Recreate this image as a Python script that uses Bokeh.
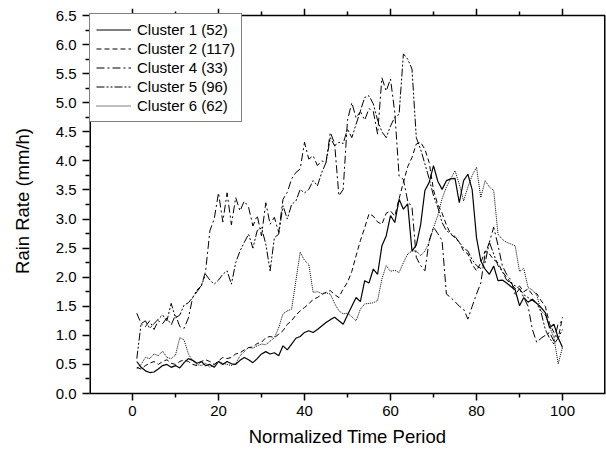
from bokeh.plotting import figure
from bokeh.models import (FixedTicker, Range1d, Legend, LegendItem, PrintfTickFormatter)
from bokeh.embed import file_html
from bokeh.resources import INLINE

time_period = list(range(1, 101))

cluster1 = [0.55, 0.45, 0.39, 0.36, 0.37, 0.42, 0.48, 0.50, 0.45, 0.48,
            0.44, 0.53, 0.60, 0.57, 0.52, 0.55, 0.48, 0.50, 0.45, 0.55,
            0.50, 0.55, 0.51, 0.50, 0.57, 0.62, 0.58, 0.53, 0.60, 0.68,
            0.72, 0.68, 0.70, 0.65, 0.82, 0.75, 0.85, 0.95, 0.98, 1.05,
            1.08, 1.05, 1.10, 1.16, 1.22, 1.27, 1.31, 1.25, 1.19, 1.35,
            1.50, 1.65, 1.58, 1.94, 1.90, 2.14, 2.05, 2.54, 2.71, 3.06,
            2.94, 3.34, 3.17, 3.26, 2.45, 2.55, 2.90, 3.49, 3.63, 3.92,
            3.65, 3.51, 3.66, 3.69, 3.70, 3.28, 3.66, 3.77, 3.50, 2.68,
            2.28, 2.14, 2.05, 2.19, 1.94, 1.95, 1.90, 1.84, 1.78, 1.51,
            1.65, 1.57, 1.62, 1.55, 1.48, 1.39, 1.13, 1.19, 0.96, 0.79]

cluster2 = [0.45, 0.42, 0.48, 0.52, 0.55, 0.50, 0.55, 0.58, 0.52, 0.50,
            0.55, 0.58, 0.55, 0.50, 0.48, 0.55, 0.58, 0.55, 0.50, 0.56,
            0.62, 0.60, 0.62, 0.68, 0.70, 0.75, 0.79, 0.80, 0.86, 0.88,
            0.96, 0.98, 0.96, 1.02, 1.08, 1.19, 1.25, 1.35, 1.42, 1.48,
            1.54, 1.62, 1.65, 1.70, 1.74, 1.77, 1.70, 1.65, 1.80, 1.91,
            2.10, 2.37, 2.63, 2.85, 3.09, 3.05, 2.95, 2.91, 3.10, 3.14,
            3.05, 3.35, 3.63, 3.90, 4.06, 4.29, 4.32, 4.20, 3.97, 3.50,
            3.25, 3.10, 2.90, 2.74, 2.68, 2.60, 2.45, 2.40, 2.22, 2.11,
            2.25, 2.45, 2.40, 2.30, 2.25, 2.10, 2.00, 1.90, 1.80, 1.85,
            1.75, 1.80, 1.70, 1.72, 1.60, 1.50, 1.20, 1.05, 0.95, 1.31]

cluster4 = [1.38, 1.20, 1.15, 1.25, 1.10, 1.25, 1.20, 1.30, 1.18, 1.35,
            1.15, 1.12, 1.30, 1.65, 1.75, 1.85, 2.10, 2.80, 3.00, 3.45,
            2.95, 3.45, 2.90, 3.37, 3.14, 3.31, 3.20, 2.88, 3.06, 2.71,
            3.28, 2.91, 3.03, 2.77, 3.34, 3.46, 3.69, 3.80, 3.86, 4.32,
            4.03, 4.09, 3.92, 4.00, 3.97, 4.49, 4.30, 3.40, 3.51, 4.70,
            5.00, 4.74, 4.85, 4.70, 4.90, 4.85, 4.46, 5.43, 5.20, 5.41,
            4.83, 3.74, 3.68, 3.31, 3.20, 2.34, 2.20, 2.11, 2.63, 2.86,
            2.75, 2.63, 1.71, 1.65, 1.58, 1.50, 1.45, 1.28, 1.50, 1.71,
            1.90, 2.40, 2.60, 2.86, 2.55, 2.20, 2.05, 1.95, 1.70, 1.80,
            1.65, 1.50, 1.10, 0.88, 0.95, 1.00, 1.05, 0.90, 1.20, 1.25]

cluster5 = [0.60, 1.20, 1.25, 1.12, 1.20, 1.28, 1.35, 1.25, 1.55, 1.30,
            1.35, 1.52, 1.56, 1.65, 1.78, 1.85, 2.05, 1.95, 1.88, 1.95,
            2.05, 2.11, 1.88, 2.25, 2.45, 2.60, 2.74, 2.50, 2.80, 2.85,
            2.57, 2.11, 2.68, 2.74, 3.23, 3.00, 3.25, 3.31, 3.51, 3.45,
            3.51, 3.66, 3.57, 3.80, 3.97, 4.40, 4.26, 4.32, 4.30, 4.55,
            4.40, 4.63, 4.86, 5.09, 5.12, 4.98, 4.70, 4.50, 4.40, 4.60,
            4.75, 4.80, 5.84, 5.75, 5.58, 4.40, 4.20, 3.95, 3.69, 3.40,
            3.20, 2.94, 2.80, 2.75, 2.70, 2.60, 2.50, 2.45, 2.30, 2.20,
            2.15, 2.25, 2.60, 2.40, 2.20, 2.10, 1.95, 1.90, 1.85, 1.80,
            1.70, 1.65, 1.60, 1.55, 1.40, 1.10, 0.95, 0.85, 0.95, 1.10]

cluster6 = [0.42, 0.50, 0.62, 0.60, 0.68, 0.65, 0.73, 0.62, 0.60, 0.66,
            0.96, 0.92, 0.68, 0.56, 0.50, 0.48, 0.52, 0.45, 0.50, 0.55,
            0.52, 0.50, 0.48, 0.51, 0.65, 0.72, 0.79, 0.78, 0.82, 0.85,
            0.84, 0.90, 0.96, 1.13, 1.37, 1.42, 1.45, 1.94, 2.43, 2.29,
            2.22, 1.74, 1.75, 1.72, 1.73, 1.71, 1.55, 1.42, 1.37, 1.38,
            1.32, 1.25, 1.45, 1.54, 1.55, 1.56, 1.60, 1.97, 2.20, 2.10,
            2.12, 2.08, 2.25, 2.40, 2.45, 2.45, 2.37, 2.45, 2.60, 2.85,
            3.06, 3.35, 3.55, 3.69, 3.83, 3.60, 3.31, 3.55, 3.75, 3.89,
            3.37, 3.66, 3.55, 3.49, 2.74, 2.65, 2.60, 2.57, 2.54, 2.10,
            2.15, 1.82, 1.78, 1.70, 1.42, 1.35, 1.15, 0.96, 0.51, 0.79]

labels = ["Cluster 1 (52)", "Cluster 2 (117)", "Cluster 4 (33)",
          "Cluster 5 (96)", "Cluster 6 (62)"]
x_major = [0, 20, 40, 60, 80, 100]
x_minor = [10, 30, 50, 70, 90]
y_major = [i * 0.5 for i in range(14)]
y_minor = [0.25 + i * 0.5 for i in range(13)]
X0, X1 = -10, 110
Y0, Y1 = 0, 6.5

FONT = "Liberation Sans"
W, H = 606, 451
B_LEFT, B_RIGHT, B_TOP, B_BOTTOM = 89, 1, 8, 58
TICK_ZONE = 7                      # px strip above the data area for the top ticks
DATA_H = H - B_TOP - B_BOTTOM - TICK_ZONE
u = (Y1 - Y0) / DATA_H             # data units per pixel
Y_TOP = Y1 + TICK_ZONE * u

p = figure(width=W, height=H, x_range=Range1d(X0, X1), y_range=Range1d(Y0, Y_TOP),
           output_backend="svg", toolbar_location=None,
           min_border_left=B_LEFT, min_border_right=B_RIGHT,
           min_border_top=B_TOP, min_border_bottom=B_BOTTOM)
p.grid.visible = False
p.outline_line_color = None
p.background_fill_color = "white"
p.border_fill_color = "white"


def style_axis(ax, major, minor):
    ax.ticker = FixedTicker(ticks=major, minor_ticks=minor)
    ax.axis_line_color = "black"
    ax.axis_line_width = 1.5
    ax.major_tick_line_color = "black"
    ax.major_tick_line_width = 1.5
    ax.minor_tick_line_color = "black"
    ax.minor_tick_line_width = 1.5
    ax.major_tick_in = 0
    ax.minor_tick_in = 0
    ax.major_tick_out = 7
    ax.minor_tick_out = 4
    ax.major_label_text_font = FONT
    ax.major_label_text_font_size = "15px"
    ax.major_label_text_color = "black"
    ax.major_label_standoff = 6
    ax.axis_label_text_font = FONT
    ax.axis_label_text_font_size = "18.5px"
    ax.axis_label_text_font_style = "normal"
    ax.axis_label_text_color = "black"


xa = p.xaxis[0]
style_axis(xa, x_major, x_minor)
xa.major_label_standoff = 5
xa.axis_label = "Normalized Time Period"
xa.axis_label_standoff = 7

ya = p.yaxis[0]
style_axis(ya, y_major, y_minor)
ya.axis_line_color = None
ya.formatter = PrintfTickFormatter(format="%.1f")
ya.axis_label = "Rain Rate (mm/h)"
ya.axis_label_standoff = 20

# box around the data area (left/right edges sit on the frame edge, so they are
# drawn twice as wide and half-clipped)
p.segment(x0=[X0, X1], y0=[Y0, Y0], x1=[X0, X1], y1=[Y1, Y1],
          line_color="black", line_width=3)
p.segment(x0=[X0], y0=[Y1], x1=[X1], y1=[Y1], line_color="black", line_width=1.5)
# ticks along the top edge, pointing outward
p.segment(x0=x_major, y0=[Y1] * len(x_major), x1=x_major, y1=[Y1 + 7 * u] * len(x_major),
          line_color="black", line_width=1.5)
p.segment(x0=x_minor, y0=[Y1] * len(x_minor), x1=x_minor, y1=[Y1 + 4 * u] * len(x_minor),
          line_color="black", line_width=1.5)

series = [cluster1, cluster2, cluster4, cluster5, cluster6]
dashes = ["solid", "5 3", "8 3 2 3", "8 2 2 2 2 2", "1 1"]
widths = [1.2, 1.0, 1.0, 1.0, 1.0]
items = []
for vals, lab, d, w in zip(series, labels, dashes, widths):
    r = p.line(time_period, vals, line_color="black", line_width=w, line_dash=d)
    items.append(LegendItem(label=lab, renderers=[r]))

PAD, ROW = 6, 19
legend_h = 2 * PAD + ROW * len(labels)
legend = Legend(items=items, location=(0, DATA_H - legend_h), margin=0, padding=PAD,
                spacing=0, glyph_width=35, glyph_height=ROW, label_height=ROW,
                label_standoff=6, label_text_font=FONT, label_text_font_size="15px",
                label_text_color="black", border_line_color="black",
                border_line_width=1, background_fill_alpha=1)
p.add_layout(legend)

open("out.html", "w").write(file_html(p, INLINE))
